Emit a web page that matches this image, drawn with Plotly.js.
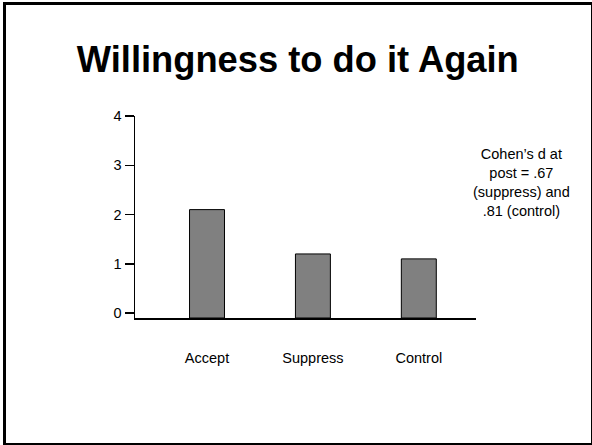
<!DOCTYPE html>
<html>
<head>
<meta charset="utf-8">
<script src="https://cdn.plot.ly/plotly-3.0.1.min.js"></script>
<style>
html,body{margin:0;padding:0;background:#fff;}
#wrap{position:relative;width:592px;height:445px;overflow:hidden;}
#chart{position:absolute;left:0;top:0;width:592px;height:445px;}
#frame{position:absolute;left:3px;top:2px;width:585px;height:438px;border-style:solid;border-color:#000;border-width:3px 2px 2px 3px;pointer-events:none;}
</style>
</head>
<body>
<div id="wrap"><div id="chart"></div><div id="frame"></div></div>
<script>
const categories = ["Accept", "Suppress", "Control"];
const values = [2.1, 1.2, 1.1];
const yTicks = [0, 1, 2, 3, 4];
const titleText = "Willingness to do it Again";
const noteText = "Cohen\u2019s d at<br>post = .67<br>(suppress) and<br>.81 (control)";

const font = "Arial, 'Liberation Sans', sans-serif";
const barBase = -0.1;

Plotly.newPlot("chart", [{
  type: "bar",
  x: [0, 1, 2],
  y: values.map(v => v - barBase),
  base: barBase,
  width: 0.33,
  marker: {color: "#808080", line: {color: "#000", width: 1}},
  hoverinfo: "none"
}], {
  width: 592, height: 445,
  margin: {l: 135, r: 116, t: 116, b: 127},
  paper_bgcolor: "#fff", plot_bgcolor: "#fff",
  showlegend: false,
  title: {text: "<b>" + titleText + "</b>", font: {family: font, size: 36.3, color: "#000"},
          x: 0.503, xref: "container", xanchor: "center", y: 1 - 59/445, yref: "container", yanchor: "middle"},
  xaxis: {range: [-0.68, 2.54], tickmode: "array", tickvals: [0, 1, 2], ticktext: categories,
          showgrid: false, zeroline: false, showline: true, linecolor: "#000", linewidth: 1.5,
          ticks: "", ticklabelstandoff: 26, tickfont: {family: font, size: 14.5, color: "#000"}, fixedrange: true},
  yaxis: {range: [-0.1, 4], tickmode: "array", tickvals: yTicks, showgrid: false, zeroline: false,
          showline: true, linecolor: "#000", linewidth: 1.5, ticks: "outside", ticklen: 9, tickwidth: 1.5, tickcolor: "#000",
          tickfont: {family: font, size: 14.5, color: "#000"}, fixedrange: true},
  annotations: [{text: noteText, xref: "paper", yref: "paper", x: (521-135)/(476-135), y: (318-182)/(318-116),
                 xanchor: "center", yanchor: "middle", showarrow: false, align: "center",
                 font: {family: font, size: 14.5, color: "#000"}}]
}, {staticPlot: true});
</script>
</body>
</html>
